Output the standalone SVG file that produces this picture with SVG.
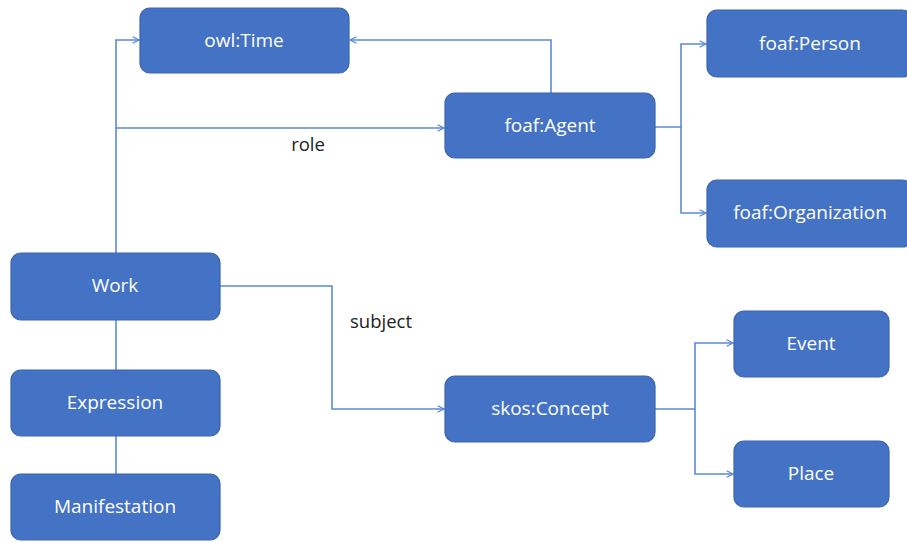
<svg xmlns="http://www.w3.org/2000/svg" width="907" height="543" viewBox="0 0 907 543">
<style>
.box{fill:#4472C4;stroke:#3A64AE;stroke-width:1.2}
.t{fill:#fff;font-family:"Open Sans","Noto Sans",sans-serif;font-size:19px;text-anchor:middle;dominant-baseline:central}
.lbl{fill:#222;font-family:"Open Sans","Noto Sans",sans-serif;font-size:18.5px;text-anchor:middle;dominant-baseline:central}
.c{fill:none;stroke:#5B8AD6;stroke-width:1.6}
</style>
<defs>
<marker id="arr" viewBox="0 0 10 10" refX="9" refY="5" markerWidth="8" markerHeight="8" markerUnits="userSpaceOnUse" orient="auto">
<path d="M1,1 L9,5 L1,9" fill="none" stroke="#5B8AD6" stroke-width="1.6"/>
</marker>
</defs>
<rect width="907" height="543" fill="#fff"/>
<g id="connectors">
<path class="c" d="M116,253 V40 H139" marker-end="url(#arr)"/>
<path class="c" d="M116,128 H444" marker-end="url(#arr)"/>
<path class="c" d="M551,93 V40 H350" marker-end="url(#arr)"/>
<path class="c" d="M655,127 H681 V44 H706" marker-end="url(#arr)"/>
<path class="c" d="M681,127 V213 H706" marker-end="url(#arr)"/>
<path class="c" d="M116,320 V370"/>
<path class="c" d="M116,436 V474"/>
<path class="c" d="M220,286 H332 V409 H444" marker-end="url(#arr)"/>
<path class="c" d="M655,409 H695 V343 H733" marker-end="url(#arr)"/>
<path class="c" d="M695,409 V474 H733" marker-end="url(#arr)"/>
<text class="lbl" x="308" y="143">role</text>
<text class="lbl" x="381" y="320">subject</text>
</g>
<g id="owlTime"><rect class="box" x="140" y="8" width="209" height="65" rx="10"/><text class="t" x="244" y="40">owl:Time</text></g>
<g id="foafAgent"><rect class="box" x="445" y="93" width="210" height="65" rx="10"/><text class="t" x="550" y="125">foaf:Agent</text></g>
<g id="foafPerson"><rect class="box" x="707" y="10" width="205" height="67" rx="10"/><text class="t" x="810" y="43">foaf:Person</text></g>
<g id="foafOrganization"><rect class="box" x="707" y="180" width="205" height="67" rx="10"/><text class="t" x="810" y="212">foaf:Organization</text></g>
<g id="work"><rect class="box" x="11" y="253" width="209" height="67" rx="10"/><text class="t" x="115" y="285">Work</text></g>
<g id="expression"><rect class="box" x="11" y="370" width="209" height="66" rx="10"/><text class="t" x="115" y="402">Expression</text></g>
<g id="manifestation"><rect class="box" x="11" y="474" width="209" height="66" rx="10"/><text class="t" x="115" y="506">Manifestation</text></g>
<g id="skosConcept"><rect class="box" x="445" y="376" width="210" height="66" rx="10"/><text class="t" x="550" y="408">skos:Concept</text></g>
<g id="event"><rect class="box" x="734" y="311" width="155" height="66" rx="10"/><text class="t" x="811" y="343">Event</text></g>
<g id="place"><rect class="box" x="734" y="441" width="155" height="66" rx="10"/><text class="t" x="811" y="473">Place</text></g>
</svg>
